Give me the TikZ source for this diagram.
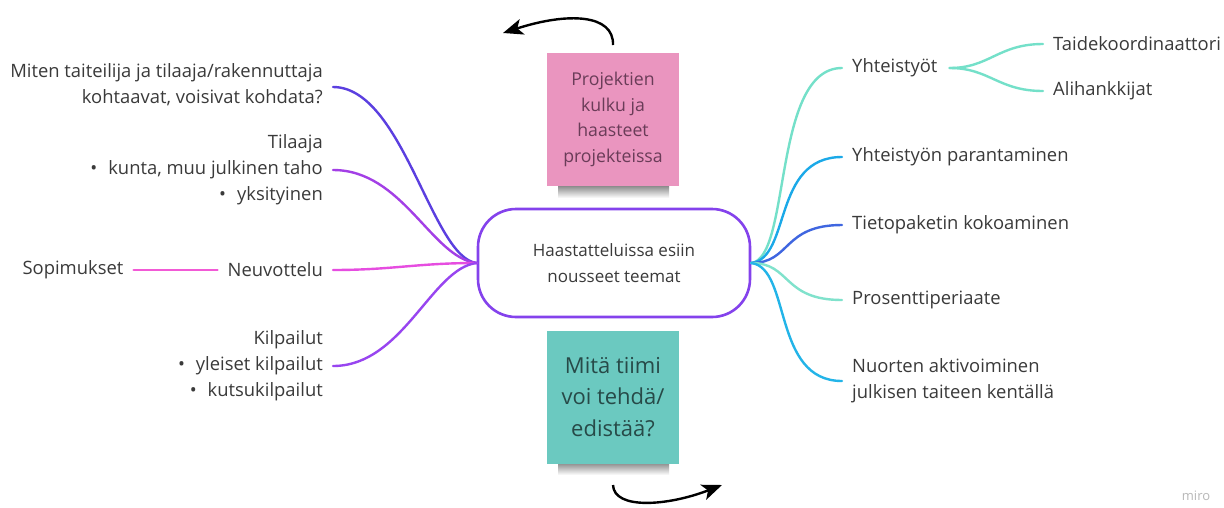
\documentclass[tikz,border=0pt]{standalone}
\usepackage{fontspec}
\setmainfont{Open Sans}
\usetikzlibrary{arrows.meta}
\definecolor{txt}{HTML}{3A3A3A}
\definecolor{cMiten}{HTML}{5B3FE0}
\definecolor{cTil}{HTML}{A33FE6}
\definecolor{cNeu}{HTML}{E64DE0}
\definecolor{cSop}{HTML}{F25AD6}
\definecolor{cKil}{HTML}{9845F0}
\definecolor{cHub}{HTML}{8442EC}
\definecolor{cYht}{HTML}{74E0C9}
\definecolor{cPar}{HTML}{1BA9E8}
\definecolor{cTie}{HTML}{3F66E0}
\definecolor{cPro}{HTML}{80E2CC}
\definecolor{cNuo}{HTML}{23B4E8}
\definecolor{pinknote}{HTML}{EA95BF}
\definecolor{pinktxt}{HTML}{6A3C58}
\definecolor{tealnote}{HTML}{6BC9C0}
\definecolor{tealtxt}{HTML}{274A48}
\tikzset{
  lbl/.style={font=\fontsize{18.4}{26}\selectfont, text=txt, inner xsep=10pt, inner ysep=0pt},
  lft/.style={lbl, anchor=east, align=right},
  rgt/.style={lbl, anchor=west, align=left},
  branch/.style={line width=2.4pt, line cap=round},
  sticky/.style={minimum width=132pt, minimum height=133pt, inner sep=0pt, align=center},
  curlarrow/.style={line width=2.4pt, -{Stealth[length=20pt,width=16pt,inset=5pt]}},
}
\newcommand{\bul}{\textbullet\hspace{11pt}}
\begin{document}
\begin{tikzpicture}[x=1pt,y=-1pt]
\useasboundingbox[fill=white] (0,0) rectangle (1224,507);

% central node
\node[draw=cHub, line width=2.6pt, rounded corners=38pt, minimum width=272pt, minimum height=108pt,
      align=center, font=\fontsize{17}{26}\selectfont, text=txt] (hub) at (614,263)
      {Haastatteluissa esiin\\nousseet teemat};
\coordinate (hl) at (hub.west);
\coordinate (hr) at (hub.east);

% sticky notes with shadows
\shade[top color=black!45, bottom color=white] (558,186) rectangle (669,198);
\node[sticky, fill=pinknote, text=pinktxt, font=\fontsize{17.7}{25.5}\selectfont] (pink) at (613,119.5)
  {Projektien\\kulku ja\\haasteet\\projekteissa};
\shade[top color=black!45, bottom color=white] (558,463) rectangle (669,475);
\node[sticky, fill=tealnote, text=tealtxt, font=\fontsize{22}{31.5}\selectfont] (teal) at (613,397)
  {\raisebox{5pt}{\parbox{132pt}{\centering Mitä tiimi\\voi tehdä/\\edistää?}}};

% curled arrows
\coordinate (a1s) at (613,45);
\coordinate (a1e) at (503,33);
\draw[curlarrow] (a1s) .. controls (614,14) and (568,12) .. (a1e);
\coordinate (a2s) at (613,485);
\coordinate (a2e) at (722,485);
\draw[curlarrow] (a2s) .. controls (614,510) and (668,506) .. (a2e);

% left labels
\node[lft] (miten) at (333,85) {Miten taiteilija ja tilaaja/rakennuttaja\\kohtaavat, voisivat kohdata?};
\node[lft] (tilaaja) at (333,170) {Tilaaja\\\bul kunta, muu julkinen taho\\\bul yksityinen};
\node[lft] (neu) at (333,270) {Neuvottelu};
\node[lbl] (sop) at (73,270) {Sopimukset};
\node[lft] (kil) at (333,366) {Kilpailut\\\bul yleiset kilpailut\\\bul kutsukilpailut};

% right labels
\node[rgt] (yht) at (842,68) {Yhteistyöt};
\node[rgt] (taide) at (1043,44) {Taidekoordinaattori};
\node[rgt] (ali) at (1043,91) {Alihankkijat};
\node[rgt] (par) at (842,157) {Yhteistyön parantaminen};
\node[rgt] (tie) at (842,225) {Tietopaketin kokoaminen};
\node[rgt] (pro) at (842,300) {Prosenttiperiaate};
\node[rgt] (nuo) at (842,381) {Nuorten aktivoiminen\\julkisen taiteen kentällä};

% left branches
\draw[branch, cMiten] (hl) .. controls +(-45,-5) and +(70,0) .. ([yshift=-2pt]miten.east);
\draw[branch, cTil] (hl) .. controls +(-45,-5) and +(70,0) .. (tilaaja.east);
\draw[branch, cNeu] (hl) .. controls +(-60,0) and +(60,0) .. (neu.east);
\draw[branch, cSop] (sop.east) -- (neu.west);
\draw[branch, cKil] (hl) .. controls +(-45,5) and +(70,0) .. (kil.east);

% right branches
\draw[branch, cYht] (hr) .. controls +(40,-5) and +(-70,0) .. (yht.west);
\draw[branch, cPar] (hr) .. controls +(40,-5) and +(-70,0) .. (par.west);
\draw[branch, cTie] (hr) .. controls +(40,0) and +(-60,0) .. (tie.west);
\draw[branch, cPro] (hr) .. controls +(40,0) and +(-60,0) .. (pro.west);
\draw[branch, cNuo] (hr) .. controls +(40,5) and +(-70,0) .. (nuo.west);
\draw[branch, cYht] ([xshift=2pt]yht.east) .. controls +(40,0) and +(-45,0) .. (taide.west);
\draw[branch, cYht] ([xshift=2pt]yht.east) .. controls +(40,0) and +(-45,0) .. (ali.west);

% watermark
\node[font=\fontsize{13}{13}\selectfont, text=black!28] (miro) at (1196,496) {miro};
\end{tikzpicture}
\end{document}
